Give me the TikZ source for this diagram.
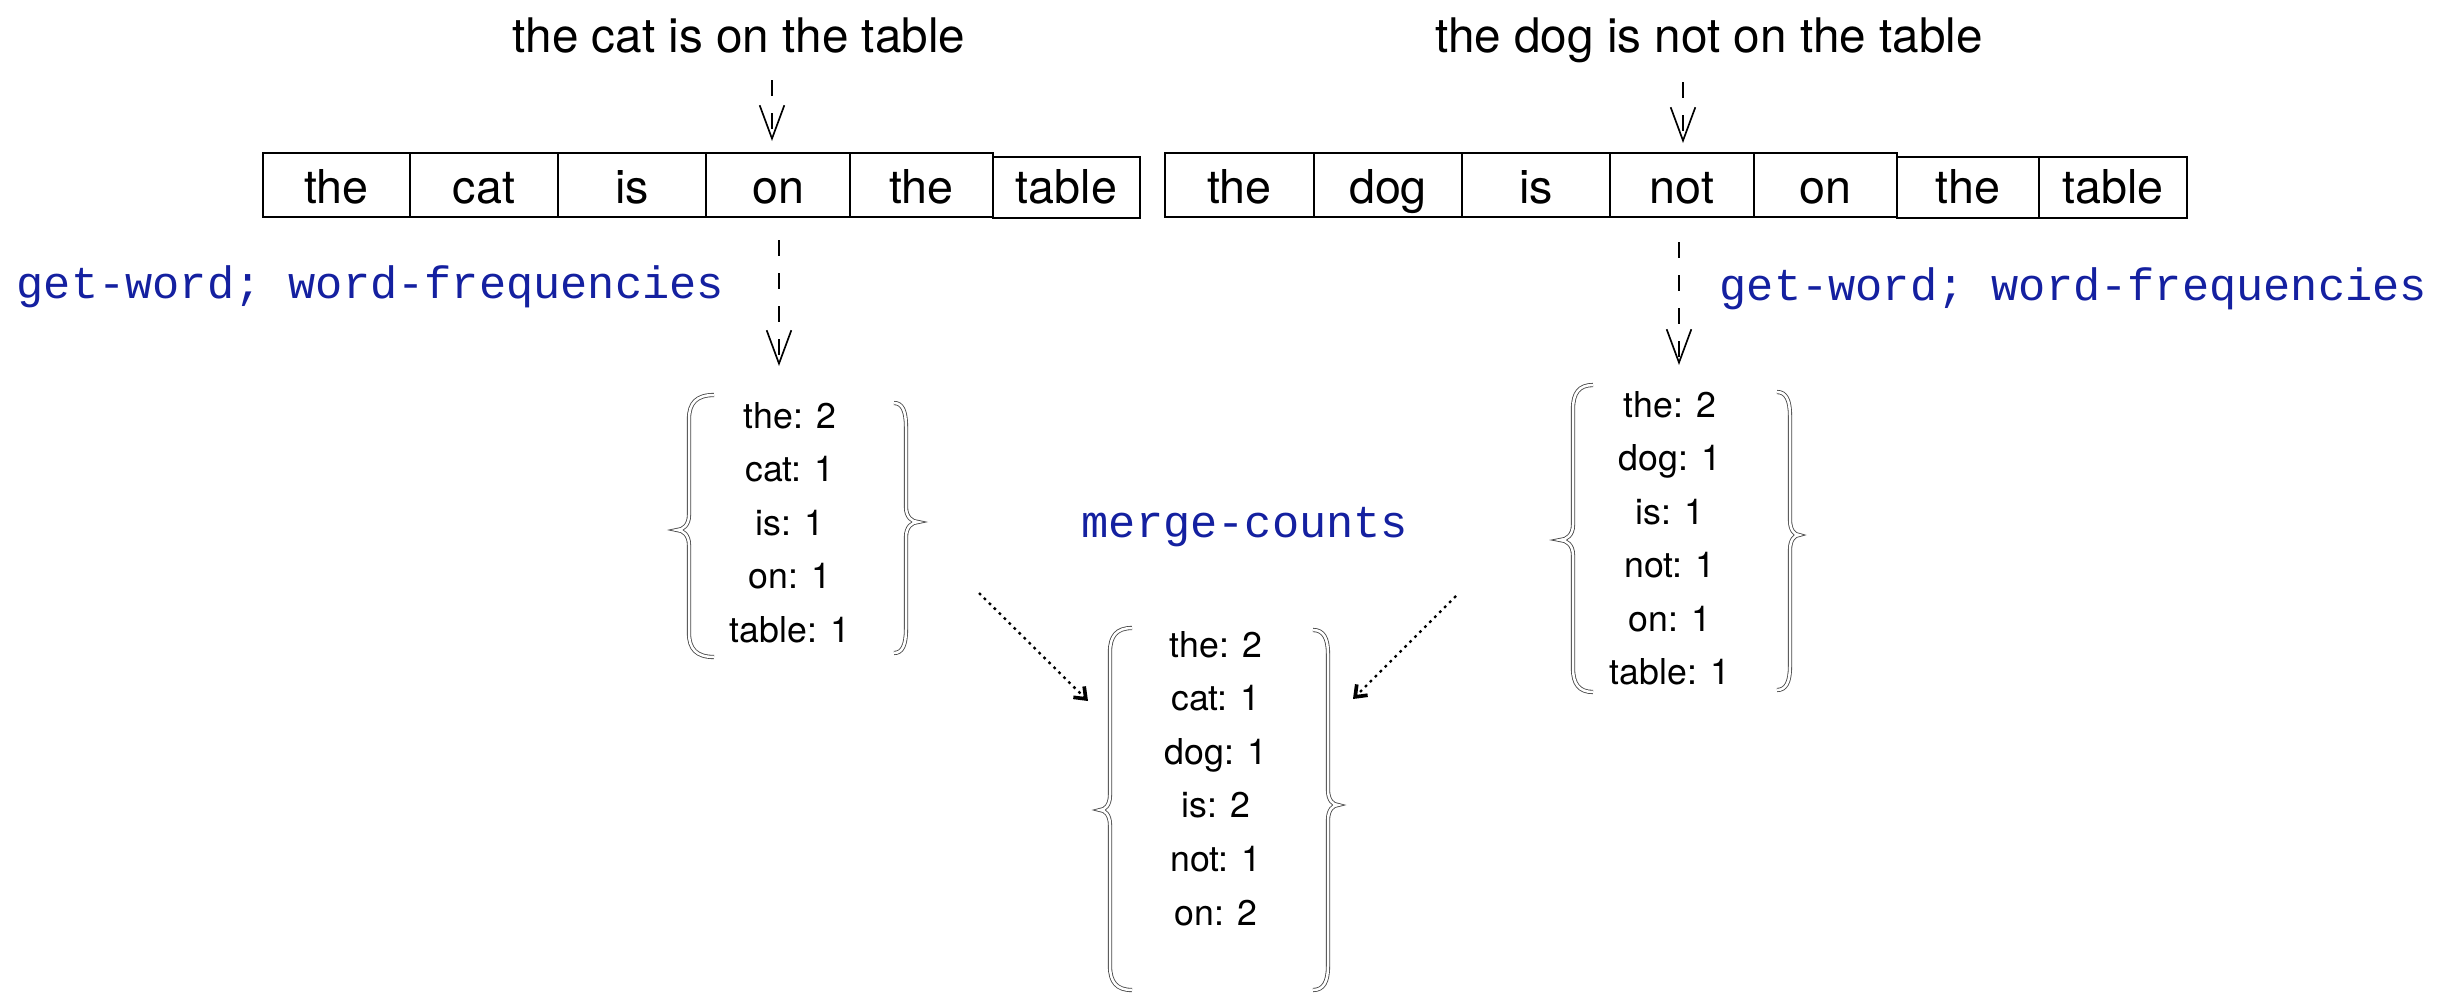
\documentclass[tikz,border=0pt]{standalone}
\usepackage{fontspec}
\setmainfont{TeX Gyre Heros}
\setmonofont{Liberation Mono}
\usetikzlibrary{arrows.meta}
\definecolor{codeblue}{RGB}{20,32,160}
\definecolor{bracegray}{RGB}{70,70,70}

% curly brace: #1 arm-end x, #2 spine x, #3 tip x, #4 top y, #5 tip y, #6 bottom y
\newcommand{\curlybr}[6]{%
  \draw[bracestyle] (#1,#4) .. controls ({#2+0.3*(#1-#2)},#4) and (#2,{#4+8}) .. (#2,{#4+24})
    -- (#2,{#5-15}) .. controls (#2,{#5-5}) and ({#3+0.5*(#2-#3)},#5) .. (#3,#5)
    .. controls ({#3+0.5*(#2-#3)},#5) and (#2,{#5+5}) .. (#2,{#5+15})
    -- (#2,{#6-24}) .. controls (#2,{#6-8}) and ({#2+0.3*(#1-#2)},#6) .. (#1,#6);%
}

\begin{document}
\begin{tikzpicture}[x=0.3pt,y=-0.3pt,
  sent/.style={anchor=base, inner sep=0pt, font=\fontsize{14.3}{17}\selectfont},
  wbox/.style={draw, line width=0.6pt, inner sep=0pt, minimum height=19.2pt,
    text height=10.8pt, text depth=0pt, font=\fontsize{14}{17}\selectfont},
  wboxlow/.style={wbox, minimum height=18.3pt, text height=9.3pt},
  code/.style={anchor=base west, inner sep=0pt, text=codeblue,
    font=\ttfamily\fontsize{13.6}{16}\selectfont},
  item/.style={anchor=base, inner sep=0pt, font=\fontsize{10.7}{13}\selectfont},
  bracestyle/.style={draw=bracegray, line width=0.25pt, double=white, double distance=0.75pt},
  dasharrow/.style={line width=0.5pt, dash pattern=on 4.8pt off 5.1pt,
    -{Straight Barb[length=10pt,width=7.4pt]}},
  dotarrow/.style={line width=0.7pt, dash pattern=on 0.8pt off 1.3pt,
    -{Straight Barb[length=3pt,width=4.6pt,line width=1.1pt]}}]
\useasboundingbox (0,0) rectangle (2454,994);

% input sentences
\node[sent] (s1) at (739,52) {the cat is on the table};
\node[sent] (s2) at (1709,52) {the dog is not on the table};

% tokenised sentences
\foreach \l/\r/\w [count=\i] in {263/410/the, 410/558/cat, 558/706/is, 706/850/on, 850/993/the}
  \node[wbox, minimum width={(\r-\l)*0.3pt}] (L\i) at ({(\l+\r)/2},185) {\w};
\node[wboxlow, minimum width={(1140-993)*0.3pt}] (L6) at ({(993+1140)/2},187.5) {table};

\foreach \l/\r/\w [count=\i] in {1165/1314/the, 1314/1462/dog, 1462/1610/is, 1610/1754/not, 1754/1897/on}
  \node[wbox, minimum width={(\r-\l)*0.3pt}] (R\i) at ({(\l+\r)/2},185) {\w};
\node[wboxlow, minimum width={(2039-1897)*0.3pt}] (R6) at ({(1897+2039)/2},187.5) {the};
\node[wboxlow, minimum width={(2187-2039)*0.3pt}] (R7) at ({(2039+2187)/2},187.5) {table};

% operation labels
\node[code] (g1) at (16,298) {get-word; word-frequencies};
\node[code] (g2) at (1719,300) {get-word; word-frequencies};
\node[code] (mc) at (1081,537) {merge-counts};

% word counts per sentence
\foreach \t [count=\i] in {the: 2, cat: 1, is: 1, on: 1, table: 1}
  \node[item] (A\i) at (790,{428+53.5*(\i-1)}) {\t};
\foreach \t [count=\i] in {the: 2, dog: 1, is: 1, not: 1, on: 1, table: 1}
  \node[item] (B\i) at (1670,{417+53.5*(\i-1)}) {\t};
% merged counts
\foreach \t [count=\i] in {the: 2, cat: 1, dog: 1, is: 2, not: 1, on: 2}
  \node[item] (M\i) at (1216,{657+53.6*(\i-1)}) {\t};

% braces
\curlybr{714}{689}{677}{395}{530}{657}
\curlybr{894}{906}{918}{403}{522}{653}
\curlybr{1593}{1573}{1560}{385}{540}{692}
\curlybr{1777}{1790}{1799}{392}{535}{690}
\curlybr{1132}{1110}{1100}{628}{810}{990}
\curlybr{1313}{1328}{1338}{630}{805}{990}

% connector end points
\coordinate (t1a) at (772,80);   \coordinate (t1b) at (772,141);
\coordinate (t2a) at (1683,82);  \coordinate (t2b) at (1683,143);
\coordinate (b1a) at (779,240);  \coordinate (b1b) at (779,366);
\coordinate (b2a) at (1679,242); \coordinate (b2b) at (1679,365);
\coordinate (d1a) at (979,593);  \coordinate (d1b) at (1088,701);
\coordinate (d2a) at (1456,596); \coordinate (d2b) at (1353,699);

\draw[dasharrow] (t1a) -- (t1b);
\draw[dasharrow] (t2a) -- (t2b);
\draw[dasharrow] (b1a) -- (b1b);
\draw[dasharrow] (b2a) -- (b2b);
\draw[dotarrow] (d1a) -- (d1b);
\draw[dotarrow] (d2a) -- (d2b);
\end{tikzpicture}
\end{document}
